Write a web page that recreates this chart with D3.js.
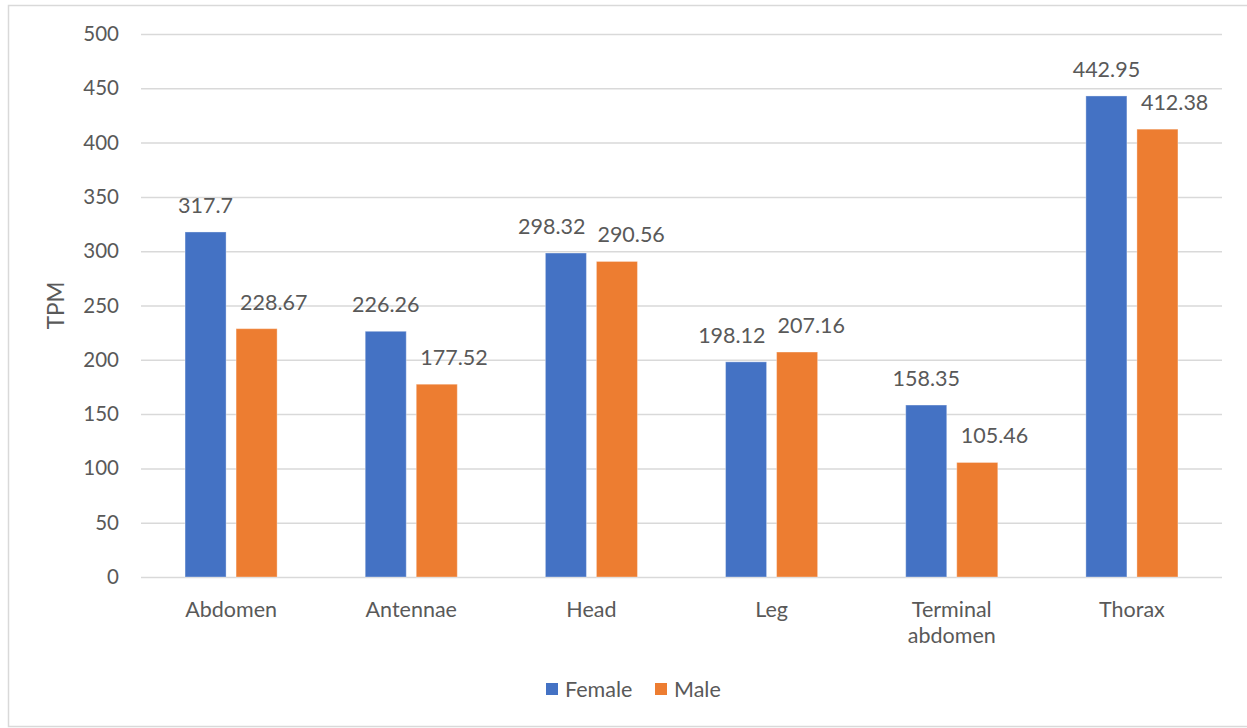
<!DOCTYPE html>
<html>
<head>
<meta charset="utf-8">
<script src="https://cdn.jsdelivr.net/npm/d3@7"></script>
<style>
  html, body { margin: 0; padding: 0; background: #ffffff; }
  svg { display: block; }
  text { font-family: Lato, "Open Sans", sans-serif; fill: #595959; }
</style>
</head>
<body>
<svg id="chart" width="1247" height="728"></svg>
<script>
// TPM per tissue, by sex
const categories = ["Abdomen", "Antennae", "Head", "Leg", "Terminal abdomen", "Thorax"];
const series = ["Female", "Male"];
const femaleValues = [317.7, 226.26, 298.32, 198.12, 158.35, 442.95];
const maleValues = [228.67, 177.52, 290.56, 207.16, 105.46, 412.38];
const yTicks = [0, 50, 100, 150, 200, 250, 300, 350, 400, 450, 500];
const colors = ["#4472C4", "#ED7D31"];

const rows = categories.map((c, i) => ({ category: c, values: [femaleValues[i], maleValues[i]] }));

const svg = d3.select("#chart");
const W = 1247, H = 728;
const plot = { left: 141, right: 1222, top: 34, bottom: 577 };
const FONT = "Lato, 'Open Sans', sans-serif";

// outer chart frame
svg.append("rect")
  .attr("x", 8.5).attr("y", 5.5)
  .attr("width", W + 10).attr("height", 721)
  .attr("fill", "#ffffff")
  .attr("stroke", "#d9d9d9").attr("stroke-width", 1.5);

const y = d3.scaleLinear().domain([0, 500]).range([plot.bottom, plot.top]);
const x0 = d3.scaleBand().domain(categories).range([plot.left, plot.right]).padding(0);
const groupW = x0.bandwidth() * 0.511;
const x1 = d3.scaleBand().domain(series)
  .range([(x0.bandwidth() - groupW) / 2, (x0.bandwidth() + groupW) / 2])
  .paddingInner(0.196).paddingOuter(0);

// gridlines + y tick labels
const yAxis = d3.axisLeft(y).tickValues(yTicks).tickSize(-(plot.right - plot.left)).tickPadding(22);
const gy = svg.append("g").attr("transform", `translate(${plot.left},0)`).call(yAxis);
gy.select(".domain").remove();
gy.selectAll(".tick line").attr("stroke", "#d9d9d9").attr("stroke-width", 1.5);
gy.selectAll(".tick text")
  .attr("font-size", 20.5).attr("fill", "#595959")
  .style("font-family", FONT);

// x axis labels (wrapped)
const xAxis = d3.axisBottom(x0).tickSize(0).tickPadding(0);
const gx = svg.append("g").attr("transform", `translate(0,${plot.bottom})`).call(xAxis);
gx.select(".domain").remove();
gx.selectAll(".tick text")
  .attr("font-size", 21.5).attr("fill", "#595959")
  .style("font-family", FONT)
  .attr("dy", null).attr("y", 0)
  .each(function (d) {
    const t = d3.select(this);
    const words = d.split(" ");
    t.text(null);
    const lines = [];
    let line = [];
    const probe = t.append("tspan");
    words.forEach(w => {
      line.push(w);
      probe.text(line.join(" "));
      if (probe.node().getComputedTextLength() > 120 && line.length > 1) {
        line.pop();
        lines.push(line.join(" "));
        line = [w];
      }
    });
    lines.push(line.join(" "));
    probe.remove();
    lines.forEach((l, i) => {
      t.append("tspan").attr("x", 0).attr("y", 40 + i * 26).text(l);
    });
  });

// bars
const groups = svg.append("g").selectAll("g")
  .data(rows).join("g")
  .attr("transform", d => `translate(${x0(d.category)},0)`);

groups.selectAll("rect")
  .data(d => d.values.map((v, i) => ({ key: series[i], value: v, i })))
  .join("rect")
  .attr("x", d => x1(d.key))
  .attr("y", d => y(d.value))
  .attr("width", x1.bandwidth())
  .attr("height", d => y(0) - y(d.value))
  .attr("fill", d => colors[d.i])
  .attr("stroke", "rgba(255,255,255,0.35)")
  .attr("stroke-width", 1);

// value labels: kept clear of the neighbouring bar and of each other
const LABEL_SIZE = 21.5;
const BAR_GAP = 14, LABEL_GAP = 12;
groups.each(function (row) {
  const g = d3.select(this);
  const labels = g.selectAll("text.val")
    .data(row.values.map((v, i) => ({ key: series[i], value: v })))
    .join("text")
    .attr("class", "val")
    .attr("x", d => x1(d.key) + x1.bandwidth() / 2)
    .attr("y", d => y(d.value) - 19)
    .attr("text-anchor", "middle")
    .attr("font-size", LABEL_SIZE)
    .text(d => d.value);
  const [a, b] = labels.nodes();
  let ax = +a.getAttribute("x"), bx = +b.getAttribute("x");
  const aw = a.getComputedTextLength(), bw = b.getComputedTextLength();
  const ay = +a.getAttribute("y"), by = +b.getAttribute("y");
  const fRight = x1(series[0]) + x1.bandwidth();
  const mLeft = x1(series[1]);
  const fTop = y(row.values[0]), mTop = y(row.values[1]);
  // female label must not run into a taller male bar
  if (mTop < ay + 4 && ax + aw / 2 > mLeft - BAR_GAP) ax = mLeft - BAR_GAP - aw / 2;
  // male label must not run into a taller female bar
  if (fTop < by + 4 && bx - bw / 2 < fRight + BAR_GAP) bx = fRight + BAR_GAP + bw / 2;
  // labels on the same line push each other apart
  const overlapX = (ax + aw / 2 + LABEL_GAP) - (bx - bw / 2);
  if (overlapX > 0 && Math.abs(ay - by) < LABEL_SIZE) {
    ax -= overlapX / 2;
    bx += overlapX / 2;
  }
  a.setAttribute("x", ax);
  b.setAttribute("x", bx);
});

// y axis title
svg.append("text")
  .attr("transform", `translate(64,${(plot.top + plot.bottom) / 2}) rotate(-90)`)
  .attr("text-anchor", "middle")
  .attr("font-size", 22.5)
  .text("TPM");

// legend
const legend = svg.append("g").attr("transform", "translate(546,689)");
const legendItems = [{ name: series[0], color: colors[0], x: 0 }, { name: series[1], color: colors[1], x: 109 }];
const li = legend.selectAll("g").data(legendItems).join("g")
  .attr("transform", d => `translate(${d.x},0)`);
li.append("rect").attr("x", 0).attr("y", -6).attr("width", 12).attr("height", 12)
  .attr("fill", d => d.color);
li.append("text").attr("x", 19).attr("y", 7.5).attr("font-size", 21.5).text(d => d.name);
</script>
</body>
</html>
